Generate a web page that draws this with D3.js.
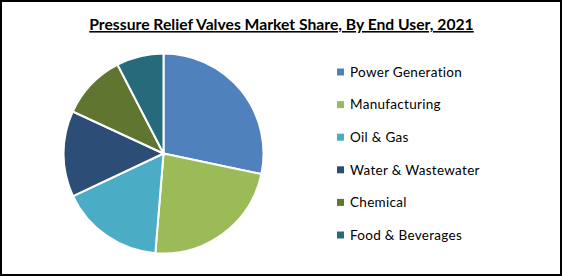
<!DOCTYPE html>
<html>
<head>
<meta charset="utf-8">
<script src="https://cdn.jsdelivr.net/npm/d3@7"></script>
<style>
  html, body { margin: 0; padding: 0; background: #fff; }
  svg { display: block; }
  text { font-family: Lato, "Open Sans", sans-serif; fill: #000; }
</style>
</head>
<body>
<div id="chart"></div>
<script>
const categories = ['Power Generation', 'Manufacturing', 'Oil & Gas', 'Water & Wastewater', 'Chemical', 'Food & Beverages'];
const shares = [28.3, 23.0, 16.7, 13.9, 10.5, 7.6];
const colors = ['#4f81bd', '#9bbb59', '#4bacc6', '#2c4d75', '#5f7530', '#276a7c'];
const title = 'Pressure Relief Valves Market Share, By End User, 2021';

const width = 562, height = 276;

const svg = d3.select('#chart')
              .append('svg')
              .attr('width', width)
              .attr('height', height);

// frame
svg.append('rect')
   .attr('x', 1).attr('y', 1)
   .attr('width', width - 2).attr('height', height - 2)
   .attr('fill', '#fff')
   .attr('stroke', '#000')
   .attr('stroke-width', 2);

// title
svg.append('text')
   .attr('x', 281.5)
   .attr('y', 30)
   .attr('text-anchor', 'middle')
   .style('font-size', '15.7px')
   .style('font-weight', 'bold')
   .style('text-decoration', 'underline')
   .text(title);

// pie
const data = categories.map((c, i) => ({ name: c, value: shares[i] }));
const color = d3.scaleOrdinal().domain(categories).range(colors);

const pie = d3.pie().sort(null).value(d => d.value);
const arc = d3.arc().innerRadius(0).outerRadius(100);

svg.append('g')
   .attr('transform', 'translate(163.5,153.5)')
   .selectAll('path')
   .data(pie(data))
   .enter()
   .append('path')
   .attr('d', arc)
   .attr('fill', d => color(d.data.name))
   .attr('stroke', '#fff')
   .attr('stroke-width', 2);

// legend
const y = d3.scalePoint().domain(categories).range([72, 235]);

const legend = svg.append('g')
   .selectAll('g')
   .data(categories)
   .enter()
   .append('g')
   .attr('transform', d => `translate(337,${y(d)})`);

legend.append('rect')
   .attr('x', 0).attr('y', -3.5)
   .attr('width', 7).attr('height', 7)
   .attr('fill', d => color(d));

legend.append('text')
   .attr('x', 13)
   .attr('dy', '0.35em')
   .style('font-size', '13.5px')
   .style('letter-spacing', '0.3px')
   .text(d => d);
</script>
</body>
</html>
